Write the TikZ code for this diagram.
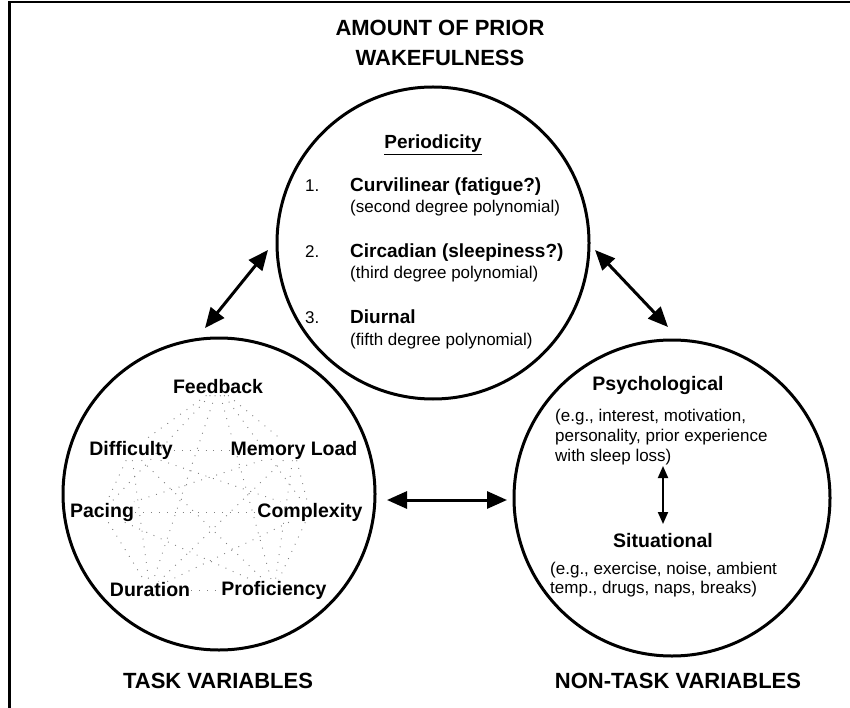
\documentclass[tikz,border=0pt]{standalone}
\usepackage{fontspec}
\setmainfont{Liberation Sans}
\usetikzlibrary{arrows.meta}
\begin{document}
\begin{tikzpicture}[x=1pt,y=-1pt,
  circ/.style={draw, line width=3pt, circle, minimum size=312pt, inner sep=0pt},
  title/.style={font=\fontsize{22}{26}\selectfont\bfseries, anchor=base, inner sep=0pt},
  lab/.style={font=\fontsize{19.5}{22}\selectfont\bfseries, inner sep=1pt},
  hd/.style={font=\fontsize{19}{22}\selectfont\bfseries, anchor=base west, inner sep=0pt},
  sub/.style={font=\fontsize{17}{21}\selectfont, anchor=base west, inner sep=0pt},
  dbl/.style={{Triangle[length=20pt,width=17pt]}-{Triangle[length=20pt,width=17pt]}, line width=3pt},
  sdbl/.style={{Triangle[length=12pt,width=10pt]}-{Triangle[length=12pt,width=10pt]}, line width=2pt},
  web/.style={black!50, line width=0.9pt, dash pattern=on 0.9pt off 7pt},
]
\useasboundingbox (0,0) rectangle (850,708);
\fill[white] (0,0) rectangle (850,708);
\draw[line width=2.5pt] (850,2) -- (9.5,2) -- (9.5,708);

% titles
\node[title] (t1) at (440,36) {AMOUNT OF PRIOR};
\node[title] (t2) at (440,66) {WAKEFULNESS};
\node[title] (t3) at (218,688) {TASK VARIABLES};
\node[title] (t4) at (678,688) {NON-TASK VARIABLES};

% circles
\node[circ] (top) at (433,243) {};
\node[circ] (left) at (219,494) {};
\node[circ, minimum size=316pt] (right) at (672,498) {};

% top circle contents
\node[font=\fontsize{19}{22}\selectfont\bfseries, anchor=base, inner sep=0pt] (per) at (433,149) {\underline{Periodicity}};
\node[sub] (n1) at (305,192) {1.};
\node[hd] (c1) at (350,192) {Curvilinear (fatigue?)};
\node[sub] (s1) at (350,213) {(second degree polynomial)};
\node[sub] (n2) at (305,258) {2.};
\node[hd] (c2) at (350,258) {Circadian (sleepiness?)};
\node[sub] (s2) at (350,279) {(third degree polynomial)};
\node[sub] (n3) at (305,323) {3.};
\node[hd] (c3) at (350,323) {Diurnal};
\node[sub] (s3) at (350,345) {(fifth degree polynomial)};

% left circle contents
\node[lab] (fb) at (218,387) {Feedback};
\node[lab] (dif) at (131,450) {Difficulty};
\node[lab] (mem) at (294,450) {Memory Load};
\node[lab] (pac) at (102,512) {Pacing};
\node[lab] (cpx) at (310,512) {Complexity};
\node[lab] (dur) at (150,590) {Duration};
\node[lab] (pro) at (274,590) {Proficiency};
\foreach \a/\b in {fb/dif,fb/mem,fb/pac,fb/cpx,fb/dur,fb/pro,dif/mem,dif/pac,dif/cpx,dif/dur,dif/pro,mem/pac,mem/cpx,mem/dur,mem/pro,pac/cpx,pac/dur,pac/pro,cpx/dur,cpx/pro,dur/pro}
  \draw[web] (\a) -- (\b);

% right circle contents
\node[font=\fontsize{19.5}{22}\selectfont\bfseries, anchor=base, inner sep=0pt] (psy) at (658,390) {Psychological};
\node[sub] (p1) at (555,421) {(e.g., interest, motivation,};
\node[sub] (p2) at (555,441) {personality, prior experience};
\node[sub] (p3) at (555,461) {with sleep loss)};
\node[font=\fontsize{19.5}{22}\selectfont\bfseries, anchor=base, inner sep=0pt] (sit) at (663,547) {Situational};
\node[sub] (q1) at (550,574) {(e.g., exercise, noise, ambient};
\node[sub] (q2) at (550,593) {temp., drugs, naps, breaks)};
\coordinate (v1) at (663,466);
\coordinate (v2) at (663,524);
\draw[sdbl] (v1) -- (v2);

% arrows between circles
\coordinate (a1) at (205,328);
\coordinate (a2) at (268,250);
\coordinate (b1) at (595,250);
\coordinate (b2) at (668,327);
\coordinate (h1) at (387,500);
\coordinate (h2) at (507,500);
\draw[dbl] (a1) -- (a2);
\draw[dbl] (b1) -- (b2);
\draw[dbl] (h1) -- (h2);
\end{tikzpicture}
\end{document}
